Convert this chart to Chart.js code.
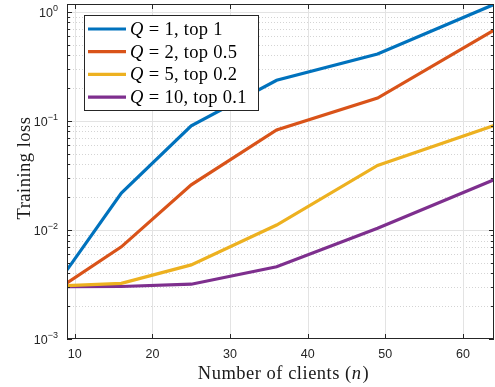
<!DOCTYPE html>
<html>
<head>
<meta charset="utf-8">
<script src="https://cdn.jsdelivr.net/npm/chart.js@4"></script>
<style>
  html, body { margin: 0; padding: 0; background: #fff; }
  #wrap { width: 495px; height: 387px; position: relative; }
</style>
</head>
<body>
<div id="wrap"><canvas id="lossChart"></canvas></div>
<script>
    // clients on the x axis
    const clients = [9, 16, 25, 36, 49, 64];

    // training loss per setting
    const lossQ1 = [0.0043, 0.0218, 0.090, 0.236, 0.41, 1.17];
    const lossQ2 = [0.00327, 0.0070, 0.0259, 0.0826, 0.162, 0.68];
    const lossQ5 = [0.00308, 0.00324, 0.00478, 0.0111, 0.039, 0.0906];
    const lossQ10 = [0.00302, 0.00303, 0.00318, 0.0046, 0.01035, 0.0288];

    const seriesNames = ['1, top 1', '2, top 0.5', '5, top 0.2', '10, top 0.1'];
    const seriesColors = ['#0072BD', '#D95319', '#EDB120', '#7E2F8E'];

    const xTicks = [10, 20, 30, 40, 50, 60];
    const yDecades = [-3, -2, -1, 0];

    const axisColor = '#262626';
    const sansFont = '"Liberation Sans", Arial, sans-serif';
    const serifFont = '"Liberation Serif", "Times New Roman", serif';

    function makeSet(values, i) {
        return {
            label: seriesNames[i],
            data: clients.map((c, k) => ({ x: c, y: values[k] })),
            borderColor: seriesColors[i],
            backgroundColor: seriesColors[i],
            borderWidth: 3.2,
            pointRadius: 0,
            tension: 0,
            borderCapStyle: 'butt',
            borderJoinStyle: 'miter'
        };
    }

    // Minor log positions 2..9 for every decade
    function minorValues() {
        const out = [];
        yDecades.forEach(d => {
            for (let m = 2; m <= 9; m++) out.push(m * Math.pow(10, d));
        });
        return out;
    }

    // draws pieces of text one after another, [text, italic] pairs
    function drawRun(ctx, parts, x, y, size, spacing) {
        ctx.letterSpacing = spacing + 'px';
        parts.forEach(([txt, it, gap]) => {
            x += gap || 0;
            ctx.font = (it ? 'italic ' : '') + size + 'px ' + serifFont;
            ctx.fillText(txt, x, y);
            x += ctx.measureText(txt).width;
        });
        ctx.letterSpacing = '0px';
    }

    function runWidth(ctx, parts, size, spacing) {
        ctx.letterSpacing = spacing + 'px';
        let w = 0;
        parts.forEach(([txt, it, gap]) => {
            ctx.font = (it ? 'italic ' : '') + size + 'px ' + serifFont;
            w += (gap || 0) + ctx.measureText(txt).width;
        });
        ctx.letterSpacing = '0px';
        return w;
    }

    const matlabLook = {
        id: 'matlabLook',
        beforeDatasetsDraw(chart) {
            const { ctx, chartArea: a, scales: { x, y } } = chart;
            ctx.save();
            ctx.beginPath();
            ctx.rect(a.left, a.top, a.right - a.left, a.bottom - a.top);
            ctx.clip();
            // minor dotted grid
            ctx.strokeStyle = '#d4d4d4';
            ctx.lineWidth = 1;
            ctx.setLineDash([1, 2]);
            minorValues().forEach(v => {
                const py = Math.round(y.getPixelForValue(v)) + 0.5;
                if (py < a.top || py > a.bottom) return;
                ctx.beginPath();
                ctx.moveTo(a.left, py);
                ctx.lineTo(a.right, py);
                ctx.stroke();
            });
            // major solid grid
            ctx.setLineDash([]);
            ctx.strokeStyle = '#e3e3e3';
            yDecades.forEach(d => {
                const py = Math.round(y.getPixelForValue(Math.pow(10, d))) + 0.5;
                ctx.beginPath();
                ctx.moveTo(a.left, py);
                ctx.lineTo(a.right, py);
                ctx.stroke();
            });
            xTicks.forEach(t => {
                const px = Math.round(x.getPixelForValue(t)) + 0.5;
                ctx.beginPath();
                ctx.moveTo(px, a.top);
                ctx.lineTo(px, a.bottom);
                ctx.stroke();
            });
            ctx.restore();
        },
        afterDatasetsDraw(chart) {
            const { ctx, chartArea: a, scales: { x, y } } = chart;
            ctx.save();
            // axes box
            ctx.strokeStyle = axisColor;
            ctx.lineWidth = 1;
            ctx.strokeRect(a.left + 0.5, a.top + 0.5, a.right - a.left - 1, a.bottom - a.top - 1);

            // y ticks, inward on both sides
            ctx.beginPath();
            yDecades.forEach(d => {
                const py = Math.round(y.getPixelForValue(Math.pow(10, d))) + 0.5;
                ctx.moveTo(a.left, py); ctx.lineTo(a.left + 5, py);
                ctx.moveTo(a.right, py); ctx.lineTo(a.right - 5, py);
            });
            minorValues().forEach(v => {
                const py = Math.round(y.getPixelForValue(v)) + 0.5;
                if (py < a.top || py > a.bottom) return;
                ctx.moveTo(a.left, py); ctx.lineTo(a.left + 3, py);
                ctx.moveTo(a.right, py); ctx.lineTo(a.right - 3, py);
            });
            // x ticks, inward top and bottom
            xTicks.forEach(t => {
                const px = Math.round(x.getPixelForValue(t)) + 0.5;
                ctx.moveTo(px, a.bottom); ctx.lineTo(px, a.bottom - 5);
                ctx.moveTo(px, a.top); ctx.lineTo(px, a.top + 5);
            });
            ctx.stroke();

            // y tick labels 10^k
            ctx.fillStyle = axisColor;
            ctx.textBaseline = 'alphabetic';
            yDecades.forEach(d => {
                const py = y.getPixelForValue(Math.pow(10, d));
                const exp = String(d).replace('-', '\u2212');
                ctx.font = '9px ' + sansFont;
                const ew = ctx.measureText(exp).width;
                const right = a.left - 9;
                ctx.textAlign = 'right';
                ctx.fillText(exp, right, py - 1);
                ctx.font = '12.5px ' + sansFont;
                ctx.fillText('10', right - ew, py + 5);
            });

            // x tick labels
            ctx.font = '12.5px ' + sansFont;
            ctx.textAlign = 'center';
            ctx.textBaseline = 'middle';
            xTicks.forEach(t => {
                ctx.fillText(String(t), x.getPixelForValue(t), a.bottom + 16);
            });

            // axis titles
            ctx.fillStyle = '#1a1a1a';
            ctx.textAlign = 'left';
            ctx.textBaseline = 'alphabetic';
            const titleSize = 18.5, titleSp = 0.5;
            const xParts = [['Number of clients (', false], ['n', true], [')', false, 1]];
            const xw = runWidth(ctx, xParts, titleSize, titleSp);
            drawRun(ctx, xParts, (a.left + a.right) / 2 + 3 - xw / 2, 379, titleSize, titleSp);

            const yParts = [['Training loss', false]];
            const yw = runWidth(ctx, yParts, titleSize, titleSp);
            ctx.save();
            ctx.translate(30, 168);
            ctx.rotate(-Math.PI / 2);
            drawRun(ctx, yParts, -yw / 2, 0, titleSize, titleSp);
            ctx.restore();

            // legend box
            const lx = 84, ly = 15, lw = 174, lh = 95;
            ctx.fillStyle = '#fff';
            ctx.fillRect(lx, ly, lw, lh);
            ctx.strokeStyle = axisColor;
            ctx.strokeRect(lx + 0.5, ly + 0.5, lw, lh);
            chart.data.datasets.forEach((ds, i) => {
                const ry = 29 + i * 22.7;
                ctx.strokeStyle = ds.borderColor;
                ctx.lineWidth = 3.2;
                ctx.beginPath();
                ctx.moveTo(88, ry);
                ctx.lineTo(126, ry);
                ctx.stroke();
                ctx.fillStyle = '#000';
                ctx.textBaseline = 'middle';
                ctx.textAlign = 'left';
                drawRun(ctx, [['Q', true], ['=', false, 5], [ds.label, false, 5]], 130, ry + 1, 18.5, 0.3);
            });
            ctx.restore();
        }
    };

    const ctx = document.getElementById('lossChart').getContext('2d');
    new Chart(ctx, {
        type: 'line',
        data: {
            datasets: [
                makeSet(lossQ1, 0),
                makeSet(lossQ2, 1),
                makeSet(lossQ5, 2),
                makeSet(lossQ10, 3)
            ]
        },
        options: {
            responsive: true,
            maintainAspectRatio: false,
            animation: false,
            layout: { padding: { left: 0, right: 1, top: 4, bottom: 0 } },
            plugins: {
                legend: { display: false },
                tooltip: { enabled: false }
            },
            scales: {
                x: {
                    type: 'linear',
                    min: 9,
                    max: 64,
                    grid: { display: false },
                    border: { display: false },
                    ticks: { display: false },
                    afterFit(scale) { scale.height = 48; }
                },
                y: {
                    type: 'logarithmic',
                    min: 0.001,
                    max: 1.18,
                    grid: { display: false },
                    border: { display: false },
                    ticks: { display: false },
                    afterFit(scale) { scale.width = 67; }
                }
            }
        },
        plugins: [matlabLook]
    });
</script>
</body>
</html>
